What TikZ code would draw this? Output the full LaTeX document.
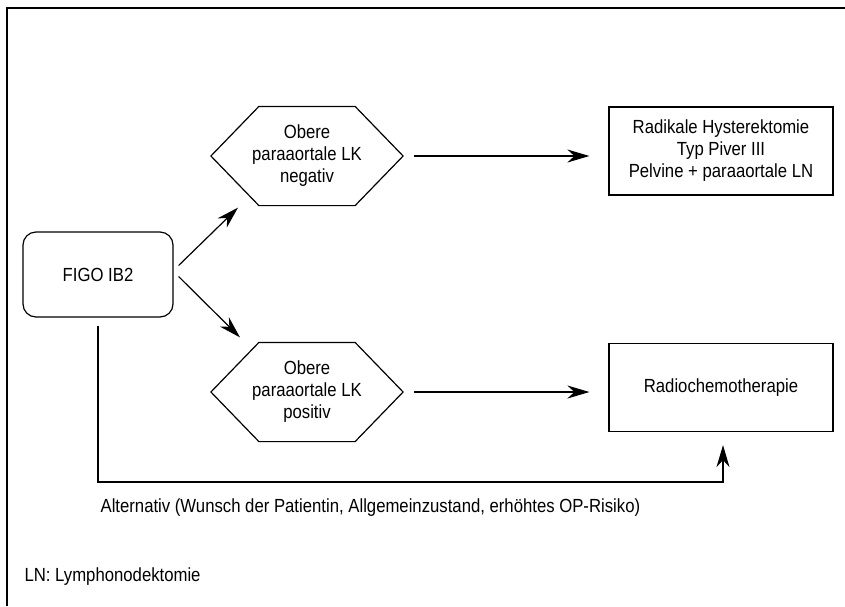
\documentclass[tikz,border=0pt]{standalone}
\usepackage{fontspec}
\setmainfont[FakeStretch=0.88]{Liberation Sans}
\usetikzlibrary{shapes, arrows.meta}
\tikzstyle{rounded} = [rectangle, draw, text centered, rounded corners=13pt, minimum width=150pt, minimum height=85pt]
\tikzstyle{hexa} = [rectangle, align=center, minimum width=191pt, minimum height=98pt, inner sep=0pt]
\tikzstyle{box} = [rectangle, draw, align=center, minimum width=224pt, minimum height=88pt]
\tikzstyle{note} = [anchor=base west, inner sep=0pt]
\tikzstyle{line} = [draw, -{Stealth[length=22pt, width=13pt, inset=7pt]}]

\begin{document}
\begin{tikzpicture}[x=1pt, y=-1pt, line width=1.2pt, font=\fontsize{19pt}{22pt}\selectfont, node distance=414pt]
    \useasboundingbox (0,0) rectangle (845,606);
    \draw (7,606) -- (7,8) -- (845,8);

    \node [rounded] (figo) at (98,274.5) {FIGO IB2};
    \node [hexa] (lk_neg) at (307,156) {Obere\\paraaortale LK\\negativ};
    \node [hexa] (lk_pos) at (307,392) {Obere\\paraaortale LK\\positiv};
    \node [box, right of=lk_neg, yshift=5pt] (op_hyst) {Radikale Hysterektomie\\Typ Piver III\\Pelvine + paraaortale LN};
    \node [box, right of=lk_pos, yshift=4.5pt] (radio_chemo) {Radiochemotherapie};
    \coordinate (alt_turn) at (400,482);
    \node [note] (alt_text) at (100,512) {Alternativ (Wunsch der Patientin, Allgemeinzustand, erhöhtes OP-Risiko)};
    \node [note] (ln_note) at (24,581) {LN: Lymphonodektomie};

    % hexagon outlines
    \foreach \hx in {lk_neg, lk_pos}
        \draw ([xshift=48pt]\hx.north west) -- ([xshift=-48pt]\hx.north east) -- (\hx.east)
            -- ([xshift=-48pt]\hx.south east) -- ([xshift=48pt]\hx.south west) -- (\hx.west) -- cycle;

    \path [line] ([shift={(5,-9)}]figo.east) -- ([shift={(-69,2)}]lk_neg.south);
    \path [line] ([shift={(5,2)}]figo.east) -- ([shift={(-67,-5)}]lk_pos.north);
    \path [line] ([xshift=11pt]lk_neg.east) -- ([xshift=-19pt]lk_neg.east -| op_hyst.west);
    \path [line] ([xshift=11pt]lk_pos.east) -- ([xshift=-19pt]lk_pos.east -| radio_chemo.west);
    \path [line] ([yshift=-8pt]figo.south) |- (alt_turn) -| ([shift={(2,13)}]radio_chemo.south);

  \end{tikzpicture}
\end{document}
